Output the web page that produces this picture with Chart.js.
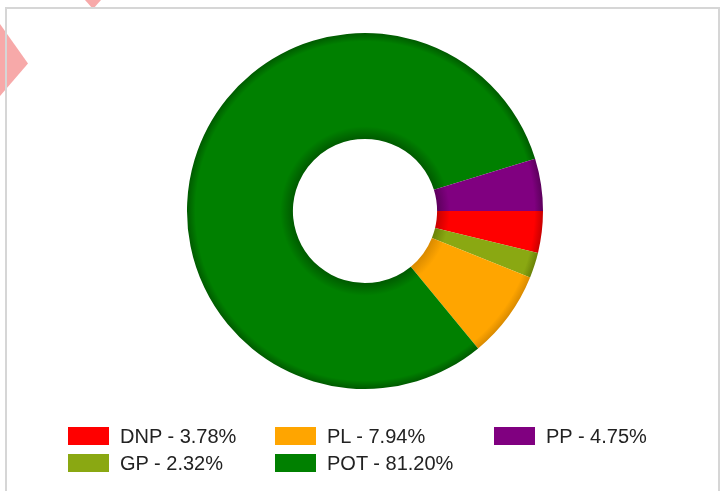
<!DOCTYPE html>
<html>
<head>
<meta charset="utf-8">
<script src="https://cdn.jsdelivr.net/npm/chart.js@4/dist/chart.umd.min.js"></script>
<style>
    html, body { margin: 0; padding: 0; background: #fff; }
    #wrap { position: relative; width: 725px; height: 491px; overflow: hidden; }
    #box { position: absolute; left: 5px; top: 7px; width: 715px; height: 500px; border: 2px solid #d6d6d6; box-sizing: border-box; }
    #grafico { position: absolute; left: 0; top: 0; }
    .mark { position: absolute; background: #f7a9a9; }
    .mark.left { left: 0; top: 24px; width: 28px; height: 72px; clip-path: polygon(0 0, 100% 55%, 0 100%); }
    .mark.top { left: 85px; top: 0; width: 16px; height: 9px; clip-path: polygon(0 0, 100% 0, 50% 100%); }
    .legenda { position: absolute; font-family: "Liberation Sans", Arial, sans-serif; font-size: 20px; color: #222; line-height: 18px; height: 18px; white-space: nowrap; }
    .legenda span { display: inline-block; width: 41px; height: 18px; vertical-align: top; margin-right: 11px; }
</style>
</head>
<body>
<div id="wrap">
    <div class="mark left"></div>
    <div class="mark top"></div>
    <div id="box"></div>
    <canvas id="grafico" width="725" height="491"></canvas>
    <div id="legendas"></div>
</div>
<script>
const categorias = ['DNP', 'GP', 'PL', 'POT', 'PP'];
const valores = [3.78, 2.32, 7.94, 81.20, 4.75];
const cores = ['#ff0000', '#8aa812', '#ffa500', '#008000', '#800080'];
const coresEscuras = ['#c80000', '#6a8208', '#d98a00', '#005a00', '#5c005c'];

// legenda em colunas (como no original): DNP, GP | PL, POT | PP
const colunasX = [68, 275, 494];
const linhasY = [427, 454];

const legendas = document.getElementById('legendas');
categorias.forEach((nome, i) => {
    const item = document.createElement('div');
    item.className = 'legenda';
    item.style.left = colunasX[Math.floor(i / 2)] + 'px';
    item.style.top = linhasY[i % 2] + 'px';
    item.innerHTML = `<span style="background:${cores[i]}"></span>${nome} - ${valores[i].toFixed(2)}%`;
    legendas.appendChild(item);
});

function gradiente(context) {
    const chart = context.chart;
    const area = chart.chartArea;
    if (!area) return cores[context.dataIndex];
    const meta = chart.getDatasetMeta(0);
    const arc = meta.data[context.dataIndex];
    if (!arc) return cores[context.dataIndex];
    const cx = (area.left + area.right) / 2;
    const cy = (area.top + area.bottom) / 2;
    const inner = arc.innerRadius || 72;
    const outer = arc.outerRadius || 178;
    const g = chart.ctx.createRadialGradient(cx, cy, inner, cx, cy, outer);
    const i = context.dataIndex;
    g.addColorStop(0, coresEscuras[i]);
    g.addColorStop(0.12, cores[i]);
    g.addColorStop(0.55, cores[i]);
    g.addColorStop(0.92, cores[i]);
    g.addColorStop(1, coresEscuras[i]);
    return g;
}

const ctx = document.getElementById('grafico').getContext('2d');
new Chart(ctx, {
    type: 'doughnut',
    data: {
        labels: categorias,
        datasets: [{
            data: valores,
            backgroundColor: gradiente,
            borderWidth: 0
        }]
    },
    options: {
        responsive: false,
        animation: false,
        rotation: 90,
        cutout: '40.5%',
        layout: {
            padding: { top: 33, bottom: 102, left: 187, right: 182 }
        },
        plugins: {
            legend: { display: false },
            tooltip: { enabled: false }
        }
    }
});
</script>
</body>
</html>
